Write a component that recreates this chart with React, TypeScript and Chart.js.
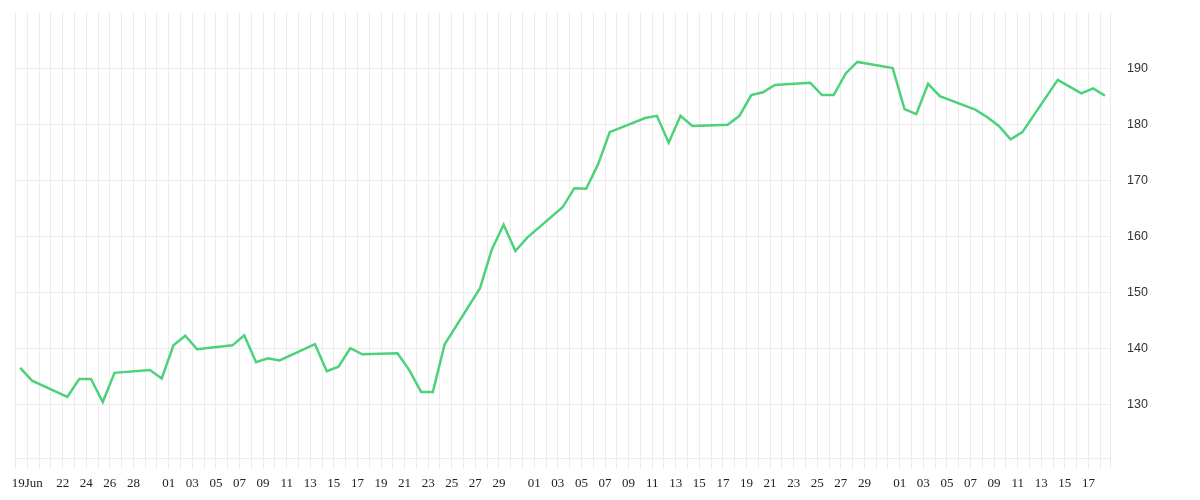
import React, { useEffect, useRef } from 'react';
import { Chart, registerables } from 'chart.js';

Chart.register(...registerables);

// trading days and closing prices
const tradeDates = [
  '2020-06-18', '2020-06-19', '2020-06-22', '2020-06-23', '2020-06-24', '2020-06-25', '2020-06-26',
  '2020-06-29', '2020-06-30', '2020-07-01', '2020-07-02', '2020-07-03',
  '2020-07-06', '2020-07-07', '2020-07-08', '2020-07-09', '2020-07-10',
  '2020-07-13', '2020-07-14', '2020-07-15', '2020-07-16', '2020-07-17',
  '2020-07-20', '2020-07-21', '2020-07-22', '2020-07-23', '2020-07-24',
  '2020-07-27', '2020-07-28', '2020-07-29', '2020-07-30', '2020-07-31',
  '2020-08-03', '2020-08-04', '2020-08-05', '2020-08-06', '2020-08-07',
  '2020-08-10', '2020-08-11', '2020-08-12', '2020-08-13', '2020-08-14',
  '2020-08-17', '2020-08-18', '2020-08-19', '2020-08-20', '2020-08-21',
  '2020-08-24', '2020-08-25', '2020-08-26', '2020-08-27', '2020-08-28',
  '2020-08-31', '2020-09-01', '2020-09-02', '2020-09-03', '2020-09-04',
  '2020-09-07', '2020-09-08', '2020-09-09', '2020-09-10', '2020-09-11',
  '2020-09-14', '2020-09-15', '2020-09-16', '2020-09-17', '2020-09-18',
];

const closePrices = [
  136.6, 134.3, 131.4, 134.6, 134.6, 130.5, 135.7,
  136.2, 134.7, 140.6, 142.3, 139.9,
  140.6, 142.4, 137.6, 138.3, 137.9,
  140.8, 136.0, 136.8, 140.1, 139.0,
  139.2, 136.2, 132.3, 132.3, 140.8,
  150.8, 157.7, 162.1, 157.4, 159.8,
  165.2, 168.6, 168.5, 172.8, 178.6,
  181.1, 181.5, 176.7, 181.5, 179.7,
  179.9, 181.5, 185.2, 185.7, 187.0,
  187.4, 185.2, 185.2, 189.0, 191.1,
  190.0, 182.7, 181.8, 187.2, 185.0,
  182.6, 181.3, 179.7, 177.3, 178.6,
  187.9, 186.7, 185.5, 186.4, 185.1,
];

// labelled days per month on the x axis
const junTicks = [19, 22, 24, 26, 28];
const julTicks = [1, 3, 5, 7, 9, 11, 13, 15, 17, 19, 21, 23, 25, 27, 29];
const augTicks = [1, 3, 5, 7, 9, 11, 13, 15, 17, 19, 21, 23, 25, 27, 29];
const sepTicks = [1, 3, 5, 7, 9, 11, 13, 15, 17];

const yTicks = [130, 140, 150, 160, 170, 180, 190];

const DAY = 86400000;
const START = Date.UTC(2020, 5, 18);
const dayOf = (s: string) => (Date.parse(s + 'T00:00:00Z') - START) / DAY;
const sampleTime = 0.4; // prices are stamped a little before midday
const xMax = dayOf('2020-09-18') + 0.83;

const GRID = '#ececec';

const App: React.FC = () => {
  const chartRef = useRef<HTMLCanvasElement | null>(null);

  useEffect(() => {
    if (!chartRef.current) return;

    const labelMap = new Map<number, string>();
    const months: [number, number[]][] = [[5, junTicks], [6, julTicks], [7, augTicks], [8, sepTicks]];
    months.forEach(([m, days]) => {
      days.forEach((d) => {
        const idx = (Date.UTC(2020, m, d) - START) / DAY;
        labelMap.set(idx, String(d).padStart(2, '0'));
      });
    });
    labelMap.set(dayOf('2020-06-19'), '19Jun');

    const points = tradeDates.map((d, i) => ({ x: dayOf(d) + sampleTime, y: closePrices[i] }));

    const chart = new Chart(chartRef.current, {
      type: 'line',
      data: {
        datasets: [
          {
            data: points,
            borderColor: '#4cd27b',
            borderWidth: 2.5,
            pointRadius: 0,
            tension: 0,
            fill: false,
          },
        ],
      },
      options: {
        animation: false,
        responsive: true,
        maintainAspectRatio: false,
        layout: { padding: { left: 15.5, top: 12, right: 0, bottom: 0 } },
        plugins: { legend: { display: false }, tooltip: { enabled: false } },
        scales: {
          x: {
            type: 'linear',
            min: 0,
            max: xMax,
            afterBuildTicks: (scale: any) => {
              const t = [];
              for (let d = 0; d <= Math.floor(xMax); d++) t.push({ value: d });
              t.push({ value: xMax });
              scale.ticks = t;
            },
            afterFit: (scale: any) => {
              scale.height = 41.3;
              scale.paddingLeft = 0;
              scale.paddingRight = 0;
            },
            grid: { color: GRID, lineWidth: 1, drawTicks: true, tickLength: 10, tickColor: GRID },
            border: { display: true, color: GRID },
            ticks: {
              autoSkip: false,
              maxRotation: 0,
              padding: 7,
              color: '#222',
              font: { family: 'Liberation Serif', size: 13 },
              callback: (v: any) => {
                const r = Math.round(v);
                if (Math.abs(v - r) > 1e-6) return '';
                return labelMap.get(r) ?? '';
              },
            },
          },
          y: {
            position: 'right',
            min: 120.4,
            max: 200,
            afterBuildTicks: (scale: any) => {
              scale.ticks = yTicks.map((v) => ({ value: v }));
            },
            afterFit: (scale: any) => {
              scale.width = 90;
              scale.paddingTop = 0;
              scale.paddingBottom = 0;
            },
            grid: { color: GRID, lineWidth: 1, drawTicks: false },
            border: { display: true, color: GRID },
            ticks: {
              padding: 17,
              color: '#333',
              font: { family: 'Liberation Sans', size: 12.5 },
            },
          },
        },
      } as any,
    });

    return () => {
      chart.destroy();
    };
  }, []);

  return (
    <div style={{ position: 'absolute', left: 0, top: 0, width: 1200, height: 500, background: '#fff' }}>
      <canvas ref={chartRef} />
    </div>
  );
};

export default App;
